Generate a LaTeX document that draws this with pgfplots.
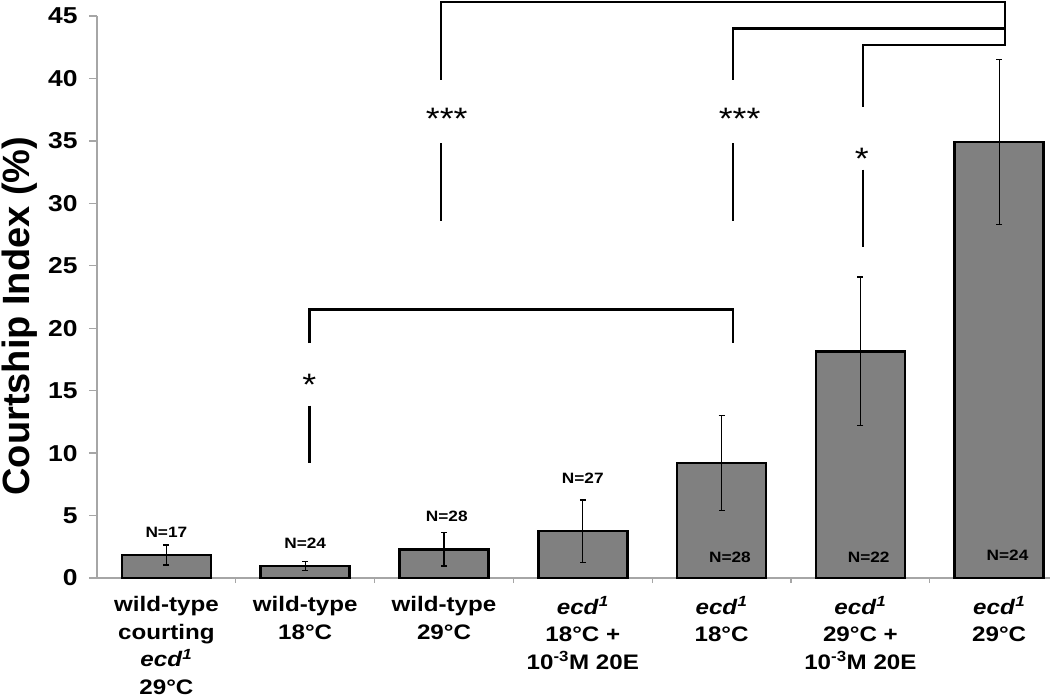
\documentclass[border=0pt]{standalone}
\usepackage{fontspec}
\setmainfont{Liberation Sans}[FakeStretch=1.15]
\newfontfamily\plainfont{Liberation Sans}
\usepackage{pgfplots}
\pgfplotsset{compat=1.18}
\definecolor{barfill}{HTML}{808080}
\definecolor{axgray}{HTML}{A6A6A6}
\newcommand{\ecd}{\textit{ecd}\textsuperscript{\textit{1}}}
\begin{document}
\begin{tikzpicture}
\useasboundingbox (-97pt,-121pt) rectangle (953pt,578pt);
\begin{axis}[
  scale only axis,
  width=971.6pt, height=562pt,
  xmin=-0.5, xmax=6.5,
  ymin=0, ymax=45,
  clip=false,
  axis lines*=left,
  axis line style={axgray, line width=1.3pt},
  ytick={0,5,...,45},
  xtick={0,...,6},
  xticklabels={{wild-type\\courting\\\ecd\\29°C},{wild-type\\18°C},{wild-type\\29°C},{\ecd\\18°C +\\10\textsuperscript{-3}M 20E},{\ecd\\18°C},{\ecd\\29°C +\\10\textsuperscript{-3}M 20E},{\ecd\\29°C}},
  major x tick style={draw=none},
  minor xtick={0.5,1.5,...,6.5},
  tick align=outside,
  major tick length=8pt,
  minor tick length=5pt,
  tick style={axgray, line width=1.3pt},
  /pgf/number format/assume math mode=true,
  yticklabel style={font=\fontsize{23}{23}\selectfont\bfseries, text=black, xshift=-8pt},
  xticklabel style={font=\fontsize{21}{27.5}\selectfont\bfseries, align=center, anchor=north, text=black, yshift=-7pt},
  ylabel={Courtship Index (\%)},
  ylabel style={font=\plainfont\bfseries\fontsize{38}{38}\selectfont, at={(axis description cs:-0.0793,0.466)}, anchor=center},
]
\addplot[ybar, bar width=89pt, fill=barfill, draw=black, line width=2.6pt,
  error bars/.cd, y dir=both, y explicit,
  error bar style={black, line width=1.3pt},
  error mark options={rotate=90, mark size=3pt, line width=1.3pt}]
coordinates {
  (0,1.85) +- (0,0.8)
  (1,0.95) +- (0,0.35)
  (2,2.3) +- (0,1.35)
  (3,3.75) +- (0,2.5)
  (4,9.2) +- (0,3.8)
  (5,18.15) +- (0,5.95)
  (6,34.9) +- (0,6.6)
};
% N labels
\begin{scope}[every node/.style={font=\fontsize{15}{15}\selectfont\bfseries}]
\node at (axis cs:0,3.68) {N=17};
\node at (axis cs:1,2.8) {N=24};
\node at (axis cs:2.02,4.9) {N=28};
\node at (axis cs:3,8.0) {N=27};
\node at (axis cs:4.06,1.68) {N=28};
\node at (axis cs:5.06,1.68) {N=22};
\node at (axis cs:6.06,1.84) {N=24};
\end{scope}
% brackets
\begin{scope}[line width=2.4pt, line cap=butt]
\draw (axis cs:1.98,39.9) -- (axis cs:1.98,46.1) -- (axis cs:6.04,46.1) -- (axis cs:6.04,42.7) -- (axis cs:5.02,42.7) -- (axis cs:5.02,37.7);
\draw (axis cs:4.08,39.9) -- (axis cs:4.08,44.0) -- (axis cs:6.04,44.0);
\draw (axis cs:1.98,34.8) -- (axis cs:1.98,28.6);
\draw (axis cs:4.08,34.8) -- (axis cs:4.08,28.6);
\draw (axis cs:5.02,32.7) -- (axis cs:5.02,26.5);
\draw (axis cs:1.03,18.8) -- (axis cs:1.03,21.5) -- (axis cs:4.08,21.5) -- (axis cs:4.08,18.8);
\draw (axis cs:1.03,13.8) -- (axis cs:1.03,9.2);
\end{scope}
\begin{scope}[every node/.style={font=\fontsize{31}{31}\selectfont, anchor=base, inner sep=0pt}]
\node at (axis cs:2.02,35.9) {***};
\node at (axis cs:4.13,35.9) {***};
\node at (axis cs:5.01,32.7) {*};
\node at (axis cs:1.03,14.6) {*};
\end{scope}
\end{axis}
\end{tikzpicture}
\end{document}
